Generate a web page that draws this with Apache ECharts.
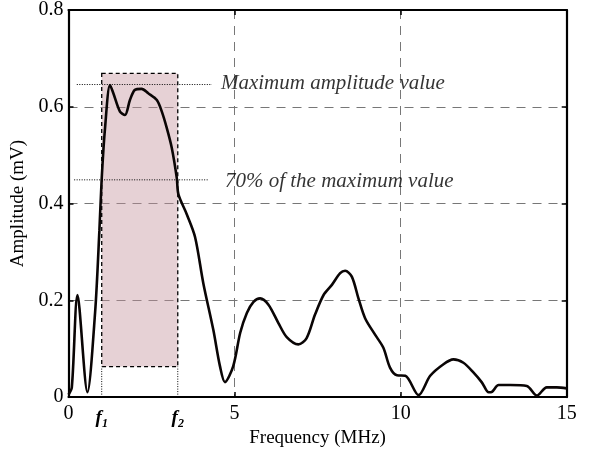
<!DOCTYPE html>
<html>
<head>
<meta charset="utf-8">
<script src="https://cdn.jsdelivr.net/npm/echarts@6/dist/echarts.min.js"></script>
<style>
html,body{margin:0;padding:0;background:#fff;}
#chart{width:594px;height:453px;}
</style>
</head>
<body>
<div id="chart"></div>
<script>
// Spectrum data (Frequency MHz, Amplitude mV)
var freq = [0, 0.1, 0.27, 0.57, 0.8, 0.93, 1.0, 1.1, 1.25, 1.35, 1.55, 1.7, 1.85, 2.0, 2.2, 2.4, 2.66, 2.81, 2.96, 3.11, 3.26, 3.31, 3.56, 3.81, 4.06, 4.36, 4.56, 4.71, 4.96, 5.17, 5.37, 5.57, 5.77, 6.02, 6.32, 6.57, 6.92, 7.17, 7.42, 7.68, 7.93, 8.18, 8.33, 8.53, 8.73, 8.93, 9.23, 9.48, 9.68, 9.89, 10.14, 10.54, 10.89, 11.29, 11.59, 11.89, 12.19, 12.45, 12.65, 12.75, 12.95, 13.3, 13.8, 14.1, 14.4, 14.7, 15];
var amp = [0.005, 0.02, 0.211, 0.01, 0.174, 0.344, 0.452, 0.556, 0.645, 0.628, 0.59, 0.583, 0.614, 0.635, 0.637, 0.628, 0.614, 0.59, 0.556, 0.515, 0.453, 0.419, 0.378, 0.331, 0.235, 0.139, 0.064, 0.031, 0.064, 0.133, 0.174, 0.197, 0.204, 0.191, 0.153, 0.124, 0.109, 0.122, 0.17, 0.211, 0.232, 0.256, 0.261, 0.249, 0.204, 0.163, 0.129, 0.102, 0.061, 0.045, 0.044, 0.004, 0.044, 0.068, 0.078, 0.071, 0.051, 0.03, 0.01, 0.011, 0.025, 0.025, 0.023, 0.003, 0.02, 0.02, 0.018];

// Bandwidth box and reference levels
var f1 = 1.0, f2 = 3.29;
var boxTop = 0.669, boxBottom = 0.063;
var maxLevel = 0.646, level70 = 0.449;
var maxLineX = [0.25, 4.32];
var lvl70LineX = [0.17, 4.23];
var maxText = 'Maximum amplitude value';
var lvl70Text = '70% of the maximum value';
var maxTextPos = [4.59, 0.649];
var lvl70TextPos = [4.71, 0.446];

// Axis ticks
var xTicks = [0, 5, 10, 15];
var yTicks = [0, 0.2, 0.4, 0.6, 0.8];

var serif = '"Liberation Serif", "DejaVu Serif", serif';
var curve = freq.map(function (f, i) { return [f, amp[i]]; });

var chart = echarts.init(document.getElementById('chart'), null, {renderer: 'canvas'});
var dotted = {color: '#000', width: 1, type: [1, 1.5]};

chart.setOption({
  backgroundColor: '#fff',
  animation: false,
  grid: {left: 68.5, right: 27.3, top: 7.5, bottom: 55, containLabel: false},
  xAxis: [{
    type: 'value', min: xTicks[0], max: xTicks[xTicks.length - 1], interval: 5,
    name: 'Frequency (MHz)', nameLocation: 'middle', nameGap: 28,
    nameTextStyle: {fontFamily: serif, fontSize: 19, color: '#000'},
    axisLine: {lineStyle: {color: '#000', width: 2.2}},
    axisTick: {inside: true, length: 5, lineStyle: {color: '#000', width: 1.5}},
    axisLabel: {fontFamily: serif, fontSize: 20, color: '#000', margin: 7},
    splitLine: {show: true, lineStyle: {color: '#777', width: 1, type: [9, 7]}}
  }, {
    type: 'value', min: xTicks[0], max: xTicks[xTicks.length - 1], position: 'bottom',
    axisLine: {show: false}, axisTick: {show: false}, splitLine: {show: false},
    axisLabel: {
      customValues: [f1, f2], margin: 11,
      formatter: function (v) { return v === f1 ? '{f|f}{s|1}' : '{f|f}{s|2}'; },
      rich: {
        f: {fontFamily: serif, fontStyle: 'italic', fontWeight: 'bold', fontSize: 19, color: '#000', verticalAlign: 'bottom'},
        s: {fontFamily: serif, fontStyle: 'italic', fontWeight: 'bold', fontSize: 12, color: '#000', verticalAlign: 'bottom', padding: [0, 0, -3, 0]}
      }
    }
  }, {
    type: 'value', min: xTicks[0], max: xTicks[xTicks.length - 1], interval: 5, position: 'top',
    axisLine: {show: true, onZero: false, lineStyle: {color: '#000', width: 2.2}},
    axisTick: {inside: true, length: 5, lineStyle: {color: '#000', width: 1.5}},
    axisLabel: {show: false}, splitLine: {show: false}
  }],
  yAxis: [{
    type: 'value', min: yTicks[0], max: yTicks[yTicks.length - 1], interval: 0.2,
    name: 'Amplitude (mV)', nameLocation: 'middle', nameGap: 34,
    nameTextStyle: {fontFamily: serif, fontSize: 19, color: '#000'},
    axisLine: {lineStyle: {color: '#000', width: 2.2}},
    axisTick: {inside: true, length: 5, lineStyle: {color: '#000', width: 1.5}},
    axisLabel: {fontFamily: serif, fontSize: 20, color: '#000', margin: 5},
    splitLine: {show: true, lineStyle: {color: '#777', width: 1, type: [9, 7]}}
  }, {
    type: 'value', min: yTicks[0], max: yTicks[yTicks.length - 1], interval: 0.2, position: 'right',
    axisLine: {show: true, onZero: false, lineStyle: {color: '#000', width: 2.2}},
    axisTick: {inside: true, length: 5, lineStyle: {color: '#000', width: 1.5}},
    axisLabel: {show: false}, splitLine: {show: false}
  }],
  series: [
    {
      type: 'line', data: curve, symbol: 'none', smooth: 0.3, z: 5,
      lineStyle: {color: '#0a0505', width: 2.6},
      markArea: {
        silent: true,
        itemStyle: {color: 'rgba(195,145,155,0.42)', borderColor: '#000', borderWidth: 1.3, borderType: [4, 3]},
        data: [[{coord: [f1, boxTop]}, {coord: [f2, boxBottom]}]]
      }
    },
    {type: 'line', data: [[maxLineX[0], maxLevel], [maxLineX[1], maxLevel]], symbol: 'none', lineStyle: dotted, z: 4},
    {type: 'line', data: [[lvl70LineX[0], level70], [lvl70LineX[1], level70]], symbol: 'none', lineStyle: dotted, z: 4},
    {type: 'line', data: [[f1, 0], [f1, boxBottom]], symbol: 'none', lineStyle: dotted, z: 4},
    {type: 'line', data: [[f2, 0], [f2, boxBottom]], symbol: 'none', lineStyle: dotted, z: 4},
    {
      type: 'scatter', symbolSize: 0, silent: true, z: 6,
      data: [
        {value: maxTextPos, label: {formatter: maxText}},
        {value: lvl70TextPos, label: {formatter: lvl70Text}}
      ],
      label: {show: true, position: 'right', distance: 0, fontFamily: serif, fontStyle: 'italic', fontSize: 21, color: '#000'}
    }
  ]
});
</script>
</body>
</html>
